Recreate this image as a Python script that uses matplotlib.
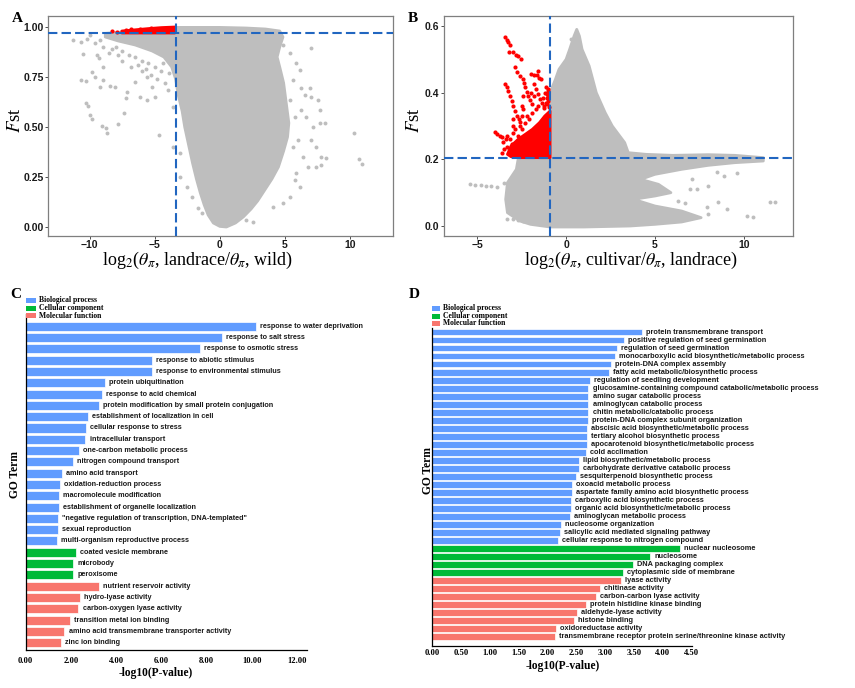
import numpy as np
import matplotlib
matplotlib.use('Agg')
import matplotlib.pyplot as plt
from matplotlib.patches import Rectangle

plt.rcParams['mathtext.fontset'] = 'stix'

W, H = 855, 688

# ---------------- panel A data (landrace vs wild) ----------------
a_core_x = [-8.8, -7.5, -3.4, -3.4, 0, 2, 3.5, 4.6, 4.85, 4.6, 4.4, 4.6, 4.9, 5.1, 5.3, 5.2, 4.9,
            4.5, 4.0, 3.4, 2.9, 2.4, 1.8, 1.2, 0.5, 0.0, -0.5, -0.9, -1.2, -1.5, -1.8, -2.1, -2.4,
            -2.7, -2.9, -3.2, -3.4, -3.7, -4.3, -5.2, -6.5, -7.8, -8.8]
a_core_y = [0.968, 0.975, 0.99, 0.998, 0.998, 0.995, 0.99, 0.98, 0.95, 0.90, 0.85, 0.80, 0.72, 0.62,
            0.52, 0.45, 0.38, 0.30, 0.24, 0.18, 0.13, 0.09, 0.05, 0.02, 0.0, 0.003, 0.02, 0.06, 0.11,
            0.17, 0.24, 0.32, 0.41, 0.50, 0.58, 0.66, 0.74, 0.80, 0.85, 0.88, 0.91, 0.93, 0.95]
a_pts_x = [-11.29, -10.52, -10.65, -10.27, -9.83, -9.58, -10.27, -10.14, -9.96, -9.83, -9.07, -8.74,
           -8.63, -7.79, -7.36, -7.2, -8.05, -8.43, -9.2, -8.94, -9.45, -9.32, -8.94, -7.1, -6.51,
           -6.13, -5.62, -4.98, -4.65, -3.58, -3.96, -5.24, -5.62, -9.96, -9.2, -10.7,
           7.02, 4.85, 5.36, 5.87, 6.13, 5.62, 6.26, 6.51, 6.9, 7.02, 7.54, 7.66, 7.66, 8.05, 7.15,
           7.02, 7.41, 7.79, 8.17, 7.41, 7.79, 6.77, 6.39, 5.87, 6.13, 5.75, 5.36, 4.85, 4.09, 2.55,
           2.04, 10.34, 10.68, 10.93, 5.75, 5.36, 6.64, 6.26, 6.0, 5.62,
           -1.40, -1.66, -2.17, -2.55, -3.07, -3.58, -3.07,
           -8.0, -7.5, -7.0, -6.5, -6.0, -5.5, -5.0, -4.5, -6.8, -6.0, -5.3, -4.8, -4.2, -7.5,
           -8.5, -9.0, -9.6, -10.2, -6.3, -5.7, -4.4, -3.9, -7.8, -8.3]
a_pts_y = [0.935, 0.863, 0.735, 0.732, 0.777, 0.752, 0.618, 0.605, 0.56, 0.538, 0.505, 0.493,
           0.472, 0.515, 0.572, 0.643, 0.698, 0.705, 0.70, 0.735, 0.86, 0.843, 0.80, 0.677, 0.727,
           0.652, 0.635, 0.652, 0.46, 0.602, 0.685, 0.702, 0.752, 0.96, 0.935, 0.927,
           0.893, 0.91, 0.868, 0.818, 0.785, 0.735, 0.693, 0.66, 0.693, 0.652, 0.635, 0.585, 0.518,
           0.518, 0.502, 0.435, 0.402, 0.352, 0.343, 0.302, 0.31, 0.302, 0.352, 0.268, 0.202, 0.235,
           0.152, 0.118, 0.102, 0.027, 0.035, 0.468, 0.338, 0.313, 0.552, 0.635, 0.552, 0.585,
           0.435, 0.402,
           0.068, 0.093, 0.152, 0.2, 0.252, 0.402, 0.368,
           0.90, 0.88, 0.86, 0.85, 0.83, 0.82, 0.80, 0.78, 0.80, 0.78, 0.76, 0.74, 0.72, 0.83,
           0.87, 0.90, 0.92, 0.94, 0.81, 0.79, 0.82, 0.77, 0.86, 0.89]
a_red_x = [-7.53, -7.53, -6.5, -5.5, -4.5, -3.45, -3.45, -5.0, -7.0]
a_red_y = [0.97, 0.98, 0.986, 0.992, 0.997, 1.0, 0.97, 0.97, 0.97]
a_red_pts_x = [-8.3, -7.9, -7.2, -6.8, -6.1, -5.3]
a_red_pts_y = [0.98, 0.976, 0.984, 0.988, 0.99, 0.995]
a_hline, a_vline = 0.97, -3.4

# ---------------- panel B data (cultivar vs landrace) ----------------
b_core_x = [0.6, 0.75, 0.9, 1.3, 1.5, 1.7, 2.2, 2.6, 3.3, 3.5, 4.5, 6, 8, 9.5, 11.1, 11.1, 9.5,
            8, 6.5, 5, 4.2, 5.2, 5.9, 5.0, 3.8, 5, 6.5, 7.6, 6.5, 5, 3.6, 1, -0.9, -2.0, -2.6, -3.3,
            -3.4, -3.3, -2.8, -2.7, -0.9, -0.9, -0.6, -0.4, 0.0, 0.2, 0.45]
b_core_y = [0.59, 0.57, 0.53, 0.48, 0.44, 0.40, 0.34, 0.30, 0.25, 0.22, 0.215, 0.212, 0.214,
            0.212, 0.205, 0.195, 0.19, 0.182, 0.17, 0.155, 0.14, 0.125, 0.10, 0.09, 0.08, 0.06, 0.045,
            0.025, 0.012, 0.005, 0.0, -0.003, -0.003, 0.005, 0.015, 0.04, 0.08, 0.13, 0.17, 0.2, 0.2,
            0.40, 0.44, 0.47, 0.50, 0.53, 0.57]
b_pts_x = [-5.4, -5.1, -4.8, -4.5, -4.2, -3.9, -3.5, -3.3, -3.0, -2.7, -2.4, 11.48, 11.77, 10.17,
           8.57, 8.01, 8.48, 7.73, 6.98, 7.35, 7.92, 8.0, 9.04, 10.54, 6.32, 6.7, 8.9, 9.6, 7.1,
           2.2, 2.6, 2.97, 1.1, 1.5, 2.0, 3.0, 0.3, 0.5]
b_pts_y = [0.126, 0.124, 0.122, 0.12, 0.119, 0.117, 0.13, 0.02, 0.02, 0.018, 0.015, 0.073, 0.073,
           0.031, 0.073, 0.121, 0.161, 0.186, 0.111, 0.111, 0.056, 0.036, 0.051, 0.026, 0.076, 0.07,
           0.15, 0.16, 0.14, 0.285, 0.27, 0.25, 0.43, 0.38, 0.34, 0.25, 0.56, 0.55]
b_red_x = [-3.3, -3.1, -2.7, -2.3, -1.9, -1.5, -1.2, -0.9, -0.9, -2.6, -3.1]
b_red_y = [0.215, 0.24, 0.26, 0.275, 0.29, 0.31, 0.33, 0.345, 0.205, 0.205, 0.208]
b_red_pts_x = [-3.43, -3.34, -3.25, -3.15, -3.19, -3.0, -2.81, -2.68, -2.55, -2.87, -2.74, -2.59,
               -2.44, -1.99, -1.80, -1.61, -1.56, -1.52, -3.43, -3.34, -3.25, -3.15, -3.06, -2.96,
               -2.87, -2.77, -2.36, -2.29, -2.21, -2.12, -2.03, -1.93, -1.80, -1.71, -1.59, -1.46,
               -1.35, -1.24, -1.13, -1.05, -1.0, -0.98, -4.0, -3.87, -3.71, -3.58, -3.53, -3.34,
               -3.15, -3.06, -2.96, -3.0, -2.59, -2.49, -2.40, -2.2, -1.9, -2.6, -2.3, -1.6, -2.0,
               -1.2, -1.0, -1.1, -2.7, -3.0, -3.5, -3.2, -1.4, -1.8, -2.45, -2.5, -2.65,
               -1.0, -1.0, -1.15, -1.3, -3.6, -3.4, -2.9, -2.1, -1.7, -1.05, -1.25, -2.5, -3.3]
b_red_pts_y = [0.566, 0.559, 0.551, 0.543, 0.523, 0.521, 0.513, 0.509, 0.501, 0.476, 0.463, 0.451,
               0.441, 0.456, 0.453, 0.453, 0.466, 0.443, 0.426, 0.416, 0.406, 0.391, 0.376, 0.361,
               0.346, 0.331, 0.429, 0.416, 0.403, 0.391, 0.379, 0.366, 0.425, 0.411, 0.396, 0.381,
               0.369, 0.359, 0.416, 0.396, 0.376, 0.356, 0.281, 0.276, 0.271, 0.266, 0.251, 0.236,
               0.261, 0.246, 0.321, 0.301, 0.311, 0.331, 0.351, 0.33, 0.34, 0.30, 0.31, 0.36, 0.40,
               0.40, 0.41, 0.385, 0.27, 0.28, 0.23, 0.22, 0.44, 0.39, 0.39, 0.36, 0.32,
               0.39, 0.405, 0.37, 0.385, 0.22, 0.26, 0.29, 0.32, 0.35, 0.365, 0.355, 0.29, 0.27]
b_hline, b_vline = 0.205, -0.9

# ---------------- panel C data (GO terms) ----------------
c_terms = ['response to water deprivation', 'response to salt stress', 'response to osmotic stress',
           'response to abiotic stimulus', 'response to environmental stimulus',
           'protein ubiquitination', 'response to acid chemical',
           'protein modification by small protein conjugation',
           'establishment of localization in cell', 'cellular response to stress',
           'intracellular transport', 'one-carbon metabolic process',
           'nitrogen compound transport', 'amino acid transport', 'oxidation-reduction process',
           'macromolecule modification', 'establishment of organelle localization',
           '"negative regulation of transcription, DNA-templated"', 'sexual reproduction',
           'multi-organism reproductive process',
           'coated vesicle membrane', 'microbody', 'peroxisome',
           'nutrient reservoir activity', 'hydro-lyase activity', 'carbon-oxygen lyase activity',
           'transition metal ion binding', 'amino acid transmembrane transporter activity',
           'zinc ion binding']
c_values = [10.18, 8.67, 7.71, 5.59, 5.59, 3.51, 3.38, 3.24, 2.77, 2.67, 2.64, 2.36, 2.08, 1.59,
            1.52, 1.47, 1.46, 1.44, 1.43, 1.40,
            2.21, 2.11, 2.11,
            3.23, 2.39, 2.33, 1.96, 1.71, 1.56]
c_groups = ['BP'] * 20 + ['CC'] * 3 + ['MF'] * 6

# ---------------- panel D data (GO terms) ----------------
d_terms = ['protein transmembrane transport', 'positive regulation of seed germination',
           'regulation of seed germination', 'monocarboxylic acid biosynthetic/metabolic process',
           'protein-DNA complex assembly', 'fatty acid metabolic/biosynthetic process',
           'regulation of seedling development',
           'glucosamine-containing compound catabolic/metabolic process',
           'amino sugar catabolic process', 'aminoglycan catabolic process',
           'chitin metabolic/catabolic process', 'protein-DNA complex subunit organization',
           'abscisic acid biosynthetic/metabolic process', 'tertiary alcohol biosynthetic process',
           'apocarotenoid biosynthetic/metabolic process', 'cold acclimation',
           'lipid biosynthetic/metabolic process', 'carbohydrate derivative catabolic process',
           'sesquiterpenoid biosynthetic process', 'oxoacid metabolic process',
           'aspartate family amino acid biosynthetic process',
           'carboxylic acid biosynthetic process', 'organic acid biosynthetic/metabolic process',
           'aminoglycan metabolic process', 'nucleosome organization',
           'salicylic acid mediated signaling pathway', 'cellular response to nitrogen compound',
           'nuclear nucleosome', 'nucleosome', 'DNA packaging complex',
           'cytoplasmic side of membrane',
           'lyase activity', 'chitinase activity', 'carbon-carbon lyase activity',
           'protein histidine kinase binding', 'aldehyde-lyase activity', 'histone binding',
           'oxidoreductase activity',
           'transmembrane receptor protein serine/threonine kinase activity']
d_values = [3.64, 3.33, 3.21, 3.17, 3.10, 3.07, 2.74, 2.71, 2.71, 2.71, 2.71, 2.70, 2.69, 2.68,
            2.68, 2.66, 2.55, 2.54, 2.49, 2.42, 2.42, 2.41, 2.41, 2.39, 2.23, 2.22, 2.18,
            4.29, 3.78, 3.48, 3.31,
            3.28, 2.91, 2.84, 2.67, 2.51, 2.46, 2.14, 2.13]
d_groups = ['BP'] * 27 + ['CC'] * 4 + ['MF'] * 8

group_colors = {'BP': '#619CFF', 'CC': '#00BA38', 'MF': '#F8766D'}
group_names = {'BP': 'Biological process', 'CC': 'Cellular component', 'MF': 'Molecular function'}


def box(px0, py0, px1, py1):
	return [px0 / W, 1 - py1 / H, (px1 - px0) / W, (py1 - py0) / H]


def ftext(px, py, s, **kw):
	fig.text(px / W, 1 - py / H, s, ha='center', va='center', **kw)


def scatter_panel(ax, core_x, core_y, pts_x, pts_y, red_x, red_y, red_px, red_py, hl, vl):
	ax.fill(core_x, core_y, color='#BEBEBE', lw=2.0, joinstyle='round', zorder=1)
	ax.scatter(pts_x, pts_y, s=8, color='#BEBEBE', lw=0, zorder=2)
	ax.fill(red_x, red_y, color='#FF0000', lw=2.0, joinstyle='round', zorder=3)
	ax.scatter(red_px, red_py, s=9, color='#FF0000', lw=0, zorder=3)
	ax.axhline(hl, color='#2166C0', lw=1.5, dashes=(4.5, 2), zorder=4)
	ax.axvline(vl, color='#2166C0', lw=1.5, dashes=(4.5, 2), zorder=4)
	for sp in ax.spines.values():
		sp.set_color('#7F7F7F')
		sp.set_linewidth(0.9)
	ax.tick_params(length=2, width=0.6, color='#333333', pad=1.2)
	for lab in ax.get_xticklabels() + ax.get_yticklabels():
		lab.set_fontfamily('Liberation Sans')
		lab.set_fontweight('bold')
		lab.set_fontsize(7.5)
		lab.set_color('#1a1a1a')


def go_panel(ax, terms, values, groups, ylim, xlim, xticks, tick_pad, bar_h, fs):
	y = np.arange(len(terms))
	cols = [group_colors[g] for g in groups]
	ax.barh(y, values, height=bar_h, color=cols, edgecolor='white', lw=0.5)
	for yi, v, t in zip(y, values, terms):
		ax.annotate(t, (v, yi), xytext=(3, 0), textcoords='offset points', va='center',
					ha='left', fontsize=fs, fontweight='bold', family='Liberation Sans',
					color='#1a1a1a', annotation_clip=False)
	ax.set_ylim(*ylim)
	ax.set_xlim(*xlim)
	ax.set_yticks([])
	ax.set_xticks(xticks)
	ax.set_xticklabels(['%.2f' % t for t in xticks], family='Liberation Serif',
					   fontweight='bold', fontsize=6.2)
	ax.tick_params(axis='x', length=0, pad=tick_pad)
	ax.spines['top'].set_visible(False)
	ax.spines['right'].set_visible(False)
	ax.spines['left'].set_linewidth(0.9)
	ax.spines['bottom'].set_linewidth(0.9)


def go_legend(px, py_list, text_px, sq_w):
	for g, py in zip(['BP', 'CC', 'MF'], py_list):
		fig.add_artist(Rectangle((px / W, 1 - (py + 2.5) / H), sq_w / W, 5 / H,
								 transform=fig.transFigure, color=group_colors[g], lw=0))
		fig.text(text_px / W, 1 - py / H, group_names[g], ha='left', va='center',
				 family='Liberation Serif', fontweight='bold', fontsize=5.5)


fig = plt.figure(figsize=(W / 100, H / 100), dpi=100)

# A
axA = fig.add_axes(box(48, 16, 393, 236))
axA.set_xlim(-13.2, 13.3)
axA.set_ylim(-0.045, 1.055)
axA.set_xticks([-10, -5, 0, 5, 10])
axA.set_yticks([0, 0.25, 0.5, 0.75, 1.0])
axA.set_yticklabels(['0.00', '0.25', '0.50', '0.75', '1.00'])
scatter_panel(axA, a_core_x, a_core_y, a_pts_x, a_pts_y, a_red_x, a_red_y,
			  a_red_pts_x, a_red_pts_y, a_hline, a_vline)

# B
axB = fig.add_axes(box(444, 16, 793, 236))
axB.set_xlim(-6.87, 12.77)
axB.set_ylim(-0.03, 0.63)
axB.set_xticks([-5, 0, 5, 10])
axB.set_yticks([0.0, 0.2, 0.4, 0.6])
axB.set_yticklabels(['0.0', '0.2', '0.4', '0.6'])
scatter_panel(axB, b_core_x, b_core_y, b_pts_x, b_pts_y, b_red_x, b_red_y,
			  b_red_pts_x, b_red_pts_y, b_hline, b_vline)

ftext(17, 18, 'A', family='Liberation Serif', fontweight='bold', fontsize=11)
ftext(413, 18, 'B', family='Liberation Serif', fontweight='bold', fontsize=11)
ftext(15.5, 120, r'$F$st', family='Liberation Serif', fontsize=13.5, rotation=90)
ftext(414, 120, r'$F$st', family='Liberation Serif', fontsize=13.5, rotation=90)
ftext(198, 260, r'log$_2$($\theta_{\pi}$, landrace/$\theta_{\pi}$, wild)',
	  family='Liberation Serif', fontsize=13)
ftext(631, 260, r'log$_2$($\theta_{\pi}$, cultivar/$\theta_{\pi}$, landrace)',
	  family='Liberation Serif', fontsize=13)

# C
axC = fig.add_axes(box(25.7, 314, 307, 650))
go_panel(axC, c_terms, c_values, c_groups, (len(c_terms) - 1 + 0.65, -1.09),
		 (0, 12.45), [0, 2, 4, 6, 8, 10, 12], 5.2, 0.8, 5.2)
go_legend(26, [300.3, 308.3, 315.6], 39, 10)
ftext(16, 294, 'C', family='Liberation Serif', fontweight='bold', fontsize=11)
ftext(15, 475, 'GO Term', family='Liberation Serif', fontweight='bold', fontsize=8.3, rotation=90)
ftext(156, 673, '-log10(P-value)', family='Liberation Serif', fontweight='bold', fontsize=8.3)

# D
axD = fig.add_axes(box(432, 328, 691.7, 645.7))
go_panel(axD, d_terms, d_values, d_groups, (len(d_terms) - 1 + 1.12, -0.5),
		 (0, 4.5), [0, 0.5, 1, 1.5, 2, 2.5, 3, 3.5, 4, 4.5], 2.4, 0.85, 5.3)
go_legend(431.5, [308.3, 316, 323.3], 442.5, 8.5)
ftext(414, 294, 'D', family='Liberation Serif', fontweight='bold', fontsize=11)
ftext(428, 470, 'GO Term', family='Liberation Serif', fontweight='bold', fontsize=8.3, rotation=90)
ftext(563, 666, '-log10(P-value)', family='Liberation Serif', fontweight='bold', fontsize=8.3)

fig.savefig('out.png', dpi=100)
